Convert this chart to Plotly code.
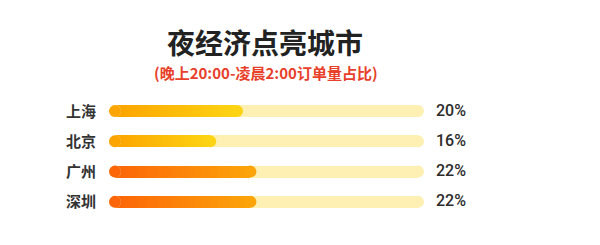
import plotly.graph_objects as go

cities = ["上海", "北京", "广州", "深圳"]
values = [20, 16, 22, 22]
value_labels = ["20%", "16%", "22%", "22%"]
track_max = 47
title_text = "夜经济点亮城市"
subtitle_text = "(晚上20:00-凌晨2:00订单量占比)"

# gradient groups per city (start colour -> end colour)
grad_start = ["#fca400", "#fca400", "#fc6508", "#fc6508"]
grad_end = ["#fdd414", "#fdd414", "#fca40a", "#fca40a"]
track_color = "#fdf0b2"

W, H = 600, 245
x0_px, x1_px = 109, 424
bar_px = 12
cap = (bar_px / 2) * track_max / (x1_px - x0_px)  # radius in data units


def hex2rgb(h):
    h = h.lstrip("#")
    return tuple(int(h[i:i + 2], 16) for i in (0, 2, 4))


def mix(a, b, t):
    ra, rb = hex2rgb(a), hex2rgb(b)
    return "rgb(%d,%d,%d)" % tuple(round(ra[i] + (rb[i] - ra[i]) * t) for i in range(3))


fig = go.Figure()
bw = 0.4
n = len(cities)


def add_bar(xs, colors):
    fig.add_trace(go.Bar(
        y=cities, x=xs, base=[cap] * n, orientation="h",
        marker=dict(color=colors, line=dict(width=0)),
        width=bw, hoverinfo="skip", showlegend=False,
    ))


def add_cap(xs, colors):
    fig.add_trace(go.Scatter(
        y=cities, x=xs, mode="markers",
        marker=dict(color=colors, size=bar_px, line=dict(width=0)),
        hoverinfo="skip", showlegend=False, cliponaxis=False,
    ))


# background track body
add_bar([track_max - 2 * cap] * n, track_color)
# gradient fill body (layered overlay bars)
N = 50
for k in range(N):
    frac = (N - k) / N
    t = (N - k - 0.5) / N
    add_bar([(v - 2 * cap) * frac for v in values],
            [mix(s, e, t) for s, e in zip(grad_start, grad_end)])

# rounded ends
add_cap([cap] * n, track_color)
add_cap([track_max - cap] * n, track_color)
add_cap([cap] * n, [mix(s, e, 0) for s, e in zip(grad_start, grad_end)])
add_cap([v - cap for v in values], [mix(s, e, 1) for s, e in zip(grad_start, grad_end)])

annotations = []
for c, lab in zip(cities, value_labels):
    annotations.append(dict(
        x=0, y=c, xref="x", yref="y", text="<b>%s</b>" % c, showarrow=False,
        xanchor="right", xshift=-11, yshift=1,
        font=dict(family="Noto Sans CJK SC", size=15, color="#333333"),
    ))
    annotations.append(dict(
        x=track_max, y=c, xref="x", yref="y", text=lab, showarrow=False,
        xanchor="left", xshift=10, yshift=1,
        font=dict(family="Roboto", size=16, color="#2b2b2b", weight=500),
    ))

annotations.append(dict(
    x=265 / W, y=1 - 42 / H, xref="paper", yref="paper", text="<b>%s</b>" % title_text,
    showarrow=False, xanchor="center", yanchor="middle",
    font=dict(family="Noto Sans CJK SC", size=28, color="#222222"),
))
annotations.append(dict(
    x=266 / W, y=1 - 72 / H, xref="paper", yref="paper", text="<b>%s</b>" % subtitle_text,
    showarrow=False, xanchor="center", yanchor="middle",
    font=dict(family="Noto Sans CJK SC", size=15, color="#e8402a"),
))

fig.update_layout(
    width=W, height=H,
    margin=dict(l=0, r=0, t=0, b=0, pad=0),
    paper_bgcolor="#ffffff", plot_bgcolor="#ffffff",
    barmode="overlay", bargap=0,
    showlegend=False,
    xaxis=dict(range=[0, track_max], domain=[x0_px / W, x1_px / W], visible=False, fixedrange=True),
    yaxis=dict(categoryorder="array", categoryarray=cities, autorange="reversed",
               domain=[1 - 217 / H, 1 - 96 / H], visible=False, fixedrange=True),
    annotations=annotations,
)

fig.write_html("out.html", config={"displayModeBar": False})
